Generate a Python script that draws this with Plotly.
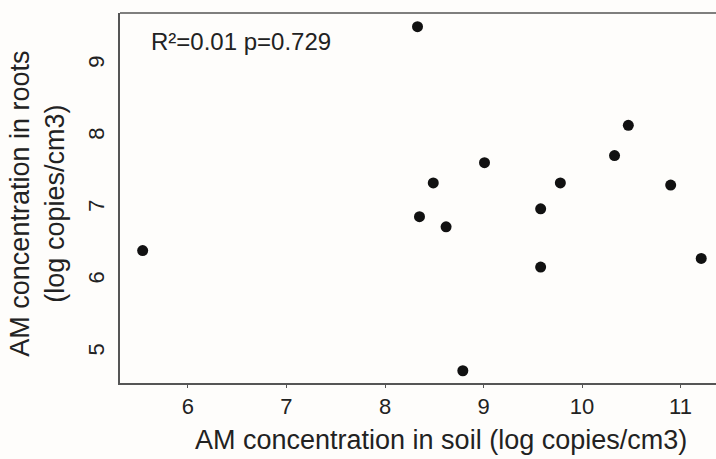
import plotly.graph_objects as go

soil = [8.33, 10.47, 10.33, 9.01, 8.49, 9.78, 10.90, 9.58, 8.35, 8.62, 9.58, 11.21, 8.79, 5.54]
roots = [9.53, 8.16, 7.74, 7.64, 7.36, 7.36, 7.33, 7.00, 6.89, 6.75, 6.19, 6.31, 4.75, 6.42]
x_ticks = [6, 7, 8, 9, 10, 11]
y_ticks = [5, 6, 7, 8, 9]
stat_text = "R²=0.01 p=0.729"
x_title = "AM concentration in soil (log copies/cm3)"
y_title = "AM concentration in roots<br>(log copies/cm3)"

FONT = "Liberation Sans, Arial, sans-serif"
TXT = "#222222"
AX = "#555555"

fig = go.Figure(go.Scatter(
    x=soil, y=roots, mode="markers",
    marker=dict(size=11, color="#111111"),
    showlegend=False, hoverinfo="skip",
))

fig.update_layout(
    width=716, height=459,
    margin=dict(l=120, r=0, t=13, b=76),
    paper_bgcolor="#fefdfb", plot_bgcolor="#fefdfb",
    font=dict(family=FONT, color=TXT),
    xaxis=dict(range=[5.31, 11.36], tickvals=x_ticks, showgrid=False, zeroline=False,
               showline=True, linecolor=AX, linewidth=1.5, mirror=False,
               ticks="outside", ticklen=3, tickcolor=AX, tickwidth=1,
               tickfont=dict(size=22, color=TXT), ticklabelstandoff=0),
    yaxis=dict(range=[4.58, 9.72], tickvals=y_ticks, showgrid=False, zeroline=False,
               showline=True, linecolor=AX, linewidth=1.5,
               ticks="", tickangle=-90,
               tickfont=dict(size=22, color=TXT), ticklabelstandoff=5),
    shapes=[dict(type="line", xref="paper", yref="paper", x0=0, x1=1, y0=1, y1=1,
                 line=dict(color=AX, width=1.5))],
    annotations=[
        dict(text=stat_text, xref="paper", yref="paper", x=0.048, y=0.922,
             xanchor="left", yanchor="middle", showarrow=False,
             font=dict(size=24, color=TXT)),
        dict(text=x_title, xref="paper", yref="paper", x=0.538, y=-0.154,
             xanchor="center", yanchor="middle", showarrow=False,
             font=dict(size=27, color=TXT)),
        dict(text=y_title, xref="paper", yref="paper", x=-0.138, y=0.484,
             xanchor="center", yanchor="middle", showarrow=False, textangle=-90,
             font=dict(size=27, color=TXT)),
    ],
)

fig.write_html("out.html", config={"displayModeBar": False},
               post_script="document.body.style.margin='0px';document.body.style.overflow='hidden';")
